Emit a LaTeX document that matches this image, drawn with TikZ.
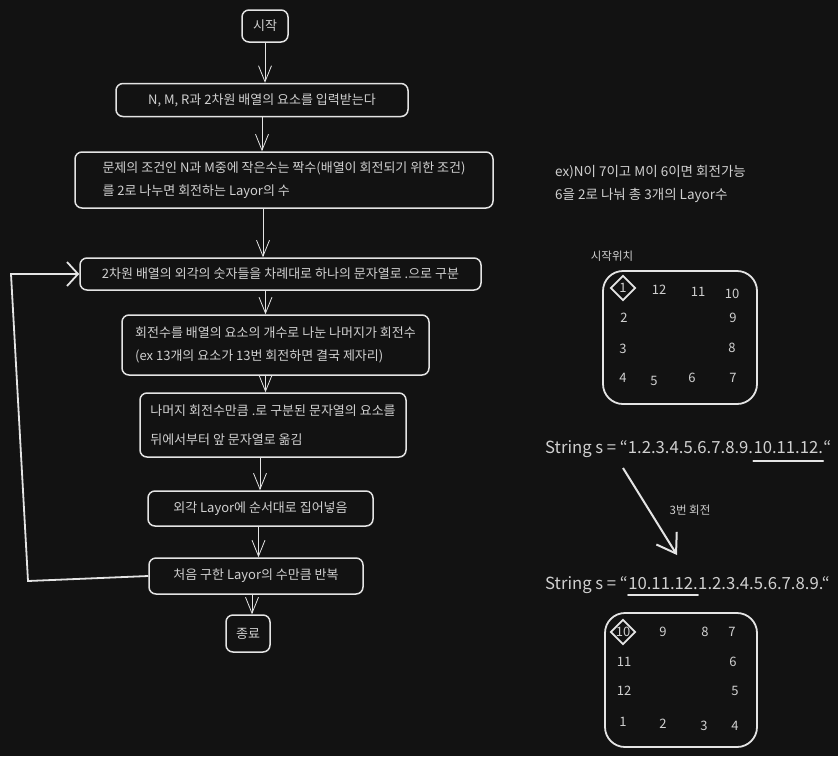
\documentclass[tikz,border=0pt]{standalone}
\usepackage{fontspec}
\setmainfont{Noto Sans CJK KR}
\usetikzlibrary{arrows.meta,shapes.geometric,calc}
\definecolor{bg}{HTML}{121212}
\definecolor{ink}{HTML}{E4E4E4}
\definecolor{txt}{HTML}{D0D0D0}
\begin{document}
\begin{tikzpicture}[x=1pt,y=-1pt,
  box/.style={draw=ink, line width=1.5pt, rounded corners=7pt, fill=bg, text=txt,
    font=\fontsize{13}{23}\selectfont, align=left, inner sep=0pt},
  flow/.style={draw=ink, line width=0.8pt, -{Straight Barb[length=16pt,width=13pt,line width=0.8pt]}},
  loopline/.style={draw=ink, line width=1.8pt, -{Straight Barb[length=11pt,width=24pt,line width=1.8pt]}},
  lbl/.style={text=txt, inner sep=0pt, font=\fontsize{13.5}{23}\selectfont, align=left},
  num/.style={text=txt, inner sep=0pt, font=\fontsize{13}{15}\selectfont},
  grid/.style={draw=ink, line width=1.8pt, rounded corners=20pt},
  posmark/.style={draw=ink, line width=1.8pt, shape=diamond, minimum size=25pt, inner sep=0pt},
  strtxt/.style={text=txt, inner sep=0pt, font=\fontsize{16.7}{20}\selectfont},
  uline/.style={draw=ink, line width=1.8pt, line cap=round},
  bigarrow/.style={draw=ink, line width=2pt, -{Straight Barb[length=18pt,width=24pt,line width=2pt]}}
]
\fill[bg] (0,0) rectangle (838,756);
\useasboundingbox (0,0) rectangle (838,756);

% flowchart
\node[box, minimum width=46pt, minimum height=32pt] (start) at (265,26) {시작};
\node[box, minimum width=292pt, minimum height=33pt] (n2) at (262,100) {N, M, R과 2차원 배열의 요소를 입력받는다};
\node[box, minimum width=418pt, minimum height=56pt] (n3) at (284,180) {문제의 조건인 N과 M중에 작은수는 짝수(배열이 회전되기 위한 조건)\\를 2로 나누면 회전하는 Layor의 수};
\node[box, minimum width=401pt, minimum height=32pt] (n4) at (280.5,274) {2차원 배열의 외각의 숫자들을 차례대로 하나의 문자열로 .으로 구분};
\node[box, minimum width=307pt, minimum height=60pt] (n5) at (275.5,345) {회전수를 배열의 요소의 개수로 나눈 나머지가 회전수\\(ex 13개의 요소가 13번 회전하면 결국 제자리)};
\node[box, minimum width=266pt, minimum height=64pt, font=\fontsize{13}{29}\selectfont] (n6) at (273,425) {나머지 회전수만큼 .로 구분된 문자열의 요소를\\뒤에서부터 앞 문자열로 옮김};
\node[box, minimum width=225pt, minimum height=35pt] (n7) at (260.5,508.5) {외각 Layor에 순서대로 집어넣음};
\node[box, minimum width=214pt, minimum height=36pt] (n8) at (256,576) {처음 구한 Layor의 수만큼 반복};
\node[box, minimum width=44pt, minimum height=37pt] (end) at (248,633.5) {종료};

\draw[flow] (start.south) -- (start.south |- n2.north);
\draw[flow] (n2.south) -- (n2.south |- n3.north);
\draw[flow] ([xshift=-21pt]n3.south) -- ([xshift=-21pt]n3.south |- n4.north);
\draw[flow] ([xshift=-15pt]n4.south) -- ([xshift=-15pt]n4.south |- n5.north);
\draw[flow] ([xshift=-10pt]n5.south) -- ([xshift=-10pt]n5.south |- n6.north);
\draw[flow] ([xshift=-13pt]n6.south) -- ([xshift=-13pt]n6.south |- n7.north);
\draw[flow] ([xshift=-2pt]n7.south) -- ([xshift=-2pt]n7.south |- n8.north);
\draw[flow] ([xshift=-4pt]n8.south) -- ([xshift=-4pt]n8.south |- end.north);

\coordinate (lpA) at (28,581);
\coordinate (lpB) at (11,274);
\draw[loopline] (n8.west) -- (lpA) -- (lpB) -- (lpB -| n4.west);

% right side notes
\node[lbl, anchor=north west] (ex) at (555,165) {ex)N이 7이고 M이 6이면 회전가능\\6을 2로 나눠 총 3개의 Layor수};
\node[lbl, anchor=center, font=\fontsize{11.5}{14}\selectfont] (pos) at (612,256) {시작위치};

% grid 1
\draw[grid] (603,271) rectangle (757,404);
\node[num] (a1) at (623,288) {1};
\node[posmark] (d1) at (a1) {};
\node[num] (a12) at (659,290) {12};
\node[num] (a11) at (698,292) {11};
\node[num] (a10) at (732,294) {10};
\node[num] (a2) at (624,318) {2};
\node[num] (a9) at (733,318) {9};
\node[num] (a3) at (623,349) {3};
\node[num] (a8) at (732,348) {8};
\node[num] (a4) at (623,378) {4};
\node[num] (a5) at (654,381) {5};
\node[num] (a6) at (692,378) {6};
\node[num] (a7) at (733,378) {7};

% strings
\node[strtxt, anchor=base west] (s1a) at (545,453) {String s = “1.2.3.4.5.6.7.8.9.};
\node[strtxt, anchor=base west] (s1b) at (s1a.base east) {10.11.12.};
\node[strtxt, anchor=base west] (s1c) at (s1b.base east) {“};
\draw[uline] ([yshift=-8pt]s1b.base west) -- ([yshift=-8pt]s1b.base east);

\coordinate (arA) at (623,468);
\coordinate (arB) at (677,555);
\draw[bigarrow] (arA) -- (arB);
\node[lbl, font=\fontsize{11.5}{14}\selectfont] (rot) at (690,510) {3번 회전};

\node[strtxt, anchor=base west] (s2a) at (545,589) {String s = “};
\node[strtxt, anchor=base west] (s2b) at (s2a.base east) {10.11.12.};
\node[strtxt, anchor=base west] (s2c) at (s2b.base east) {1.2.3.4.5.6.7.8.9.“};
\draw[uline] ([yshift=-6pt]s2b.base west) -- ([yshift=-6pt]s2b.base east);

% grid 2
\draw[grid] (605,613) rectangle (757,747);
\node[num] (b10) at (623,632) {10};
\node[posmark] (d2) at (b10) {};
\node[num] (b9) at (663,632) {9};
\node[num] (b8) at (705,632) {8};
\node[num] (b7) at (732,632) {7};
\node[num] (b11) at (624,662) {11};
\node[num] (b6) at (733,662) {6};
\node[num] (b12) at (624,691) {12};
\node[num] (b5) at (735,691) {5};
\node[num] (b1) at (623,722) {1};
\node[num] (b2) at (663,724) {2};
\node[num] (b3) at (704,726) {3};
\node[num] (b4) at (735,726) {4};
\end{tikzpicture}
\end{document}
